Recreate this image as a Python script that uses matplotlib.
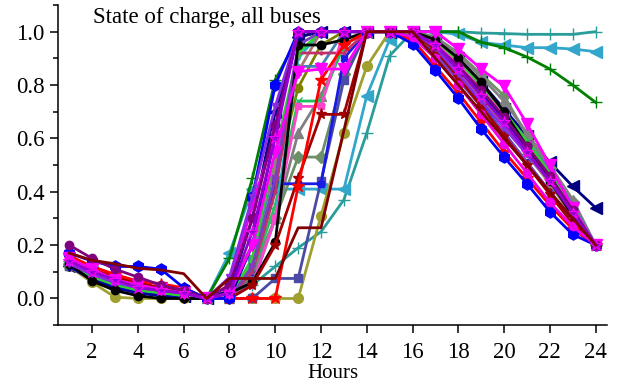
import matplotlib
matplotlib.use("Agg")
import matplotlib.pyplot as plt
from matplotlib.ticker import MultipleLocator

plt.rcParams["font.family"] = ["Liberation Serif", "DejaVu Serif"]
plt.rcParams["font.size"] = 15

hours = list(range(1, 25))

# state of charge per bus, hours 1..24
soc_teal = [0.13, 0.09, 0.06, 0.04, 0.02, 0.01, 0, 0.02, 0.05, 0.12, 0.19, 0.25, 0.37, 0.62,
            0.91, 1.0, 1.0, 1.0, 0.995, 0.993, 0.99, 0.99, 0.99, 1.0]
soc_lightblue = [0.14, 0.10, 0.07, 0.05, 0.03, 0.01, 0, 0.17, 0.41, 0.41, 0.41, 0.41, 0.41, 0.76,
                 0.97, 1.0, 1.0, 0.99, 0.96, 0.95, 0.94, 0.94, 0.935, 0.925]
soc_green = [0.13, 0.10, 0.08, 0.05, 0.04, 0.02, 0, 0.15, 0.45, 0.82, 0.98, 1.0, 1.0, 1.0,
             1.0, 1.0, 1.0, 1.0, 0.96, 0.94, 0.905, 0.86, 0.80, 0.735]
soc_navy = [0.12, 0.08, 0.05, 0.03, 0.02, 0.01, 0, 0.03, 0.30, 0.70, 0.98, 1.0, 1.0, 1.0,
            1.0, 1.0, 0.97, 0.90, 0.81, 0.71, 0.61, 0.51, 0.42, 0.34]
soc_blue = [0.17, 0.14, 0.12, 0.12, 0.11, 0.04, 0, 0.0, 0.38, 0.80, 1.0, 1.0, 1.0, 1.0,
            1.0, 0.955, 0.855, 0.75, 0.635, 0.53, 0.43, 0.325, 0.24, 0.2]
soc_red = [0.16, 0.12, 0.09, 0.065, 0.055, 0.04, 0, 0.0, 0.0, 0.0, 0.42, 0.82, 0.95, 1.0,
           1.0, 0.97, 0.87, 0.77, 0.66, 0.55, 0.45, 0.35, 0.26, 0.2]
soc_black = [0.13, 0.065, 0.03, 0.01, 0.0, 0.0, 0, 0.02, 0.06, 0.21, 0.95, 0.95, 0.97, 1.0,
             1.0, 1.0, 0.97, 0.90, 0.81, 0.70, 0.57, 0.44, 0.31, 0.2]
soc_olive = [0.12, 0.06, 0.005, 0.0, 0.0, 0.0, 0, 0.0, 0.0, 0.0, 0.0, 0.31, 0.62, 0.87,
             1.0, 1.0, 0.96, 0.88, 0.79, 0.69, 0.58, 0.46, 0.33, 0.2]
soc_darkolive = [0.14, 0.09, 0.06, 0.04, 0.03, 0.02, 0, 0.02, 0.12, 0.45, 0.79, 0.95, 1.0, 1.0,
                 1.0, 0.99, 0.93, 0.85, 0.76, 0.66, 0.55, 0.43, 0.31, 0.2]
soc_darkred = [0.15, 0.11, 0.08, 0.06, 0.04, 0.03, 0, 0.0, 0.05, 0.20, 0.45, 0.69, 0.69, 1.0,
               1.0, 1.0, 0.93, 0.83, 0.72, 0.61, 0.50, 0.39, 0.28, 0.2]
soc_magenta_v = [0.15, 0.11, 0.07, 0.05, 0.035, 0.02, 0, 0.02, 0.20, 0.55, 0.85, 0.86, 0.86, 1.0,
                 1.0, 1.0, 1.0, 0.935, 0.86, 0.795, 0.655, 0.50, 0.34, 0.2]
soc_magenta_o = [0.15, 0.105, 0.07, 0.045, 0.03, 0.02, 0, 0.05, 0.35, 0.62, 1.0, 1.0, 1.0, 1.0,
                 1.0, 0.98, 0.90, 0.80, 0.69, 0.58, 0.47, 0.36, 0.27, 0.2]
soc_seagreen = [0.13, 0.09, 0.06, 0.04, 0.02, 0.01, 0, 0.0, 0.10, 0.30, 0.53, 0.53, 0.84, 1.0,
                1.0, 1.0, 0.98, 0.92, 0.84, 0.76, 0.61, 0.49, 0.36, 0.2]
soc_slate = [0.12, 0.08, 0.05, 0.03, 0.02, 0.01, 0, 0.0, 0.0, 0.075, 0.075, 0.44, 0.82, 1.0,
             1.0, 1.0, 0.96, 0.88, 0.79, 0.69, 0.58, 0.47, 0.34, 0.2]
soc_royal = [0.13, 0.09, 0.05, 0.03, 0.02, 0.01, 0, 0.0, 0.10, 0.43, 0.43, 0.43, 0.90, 1.0,
             1.0, 0.99, 0.92, 0.83, 0.73, 0.62, 0.51, 0.40, 0.29, 0.2]
soc_spring = [0.13, 0.09, 0.06, 0.04, 0.03, 0.02, 0, 0.0, 0.10, 0.35, 0.74, 0.74, 0.95, 1.0,
              1.0, 1.0, 0.95, 0.87, 0.78, 0.68, 0.57, 0.45, 0.32, 0.2]
soc_gray = [0.14, 0.10, 0.07, 0.05, 0.03, 0.02, 0, 0.0, 0.08, 0.30, 0.62, 0.76, 0.95, 1.0,
            1.0, 1.0, 0.98, 0.91, 0.83, 0.74, 0.62, 0.50, 0.37, 0.2]
soc_steel = [0.12, 0.08, 0.05, 0.03, 0.02, 0.01, 0, 0.0, 0.15, 0.50, 0.87, 0.87, 1.0, 1.0,
             1.0, 1.0, 0.96, 0.89, 0.80, 0.70, 0.59, 0.48, 0.35, 0.2]
soc_turq = [0.13, 0.09, 0.06, 0.04, 0.02, 0.01, 0, 0.0, 0.05, 0.30, 0.90, 1.0, 1.0, 1.0,
            1.0, 0.98, 0.91, 0.82, 0.72, 0.62, 0.51, 0.40, 0.29, 0.2]
soc_rosy = [0.14, 0.10, 0.07, 0.05, 0.03, 0.02, 0, 0.05, 0.20, 0.50, 0.85, 1.0, 1.0, 1.0,
            1.0, 0.99, 0.93, 0.85, 0.75, 0.65, 0.54, 0.43, 0.31, 0.2]
soc_crimson = [0.15, 0.11, 0.08, 0.05, 0.04, 0.02, 0, 0.0, 0.10, 0.40, 0.92, 0.92, 0.92, 1.0,
               1.0, 1.0, 0.95, 0.87, 0.77, 0.67, 0.56, 0.44, 0.32, 0.2]
soc_pink = [0.15, 0.10, 0.07, 0.05, 0.04, 0.03, 0, 0.0, 0.05, 0.30, 0.72, 0.72, 1.0, 1.0,
            1.0, 1.0, 0.96, 0.88, 0.79, 0.69, 0.58, 0.46, 0.33, 0.2]
soc_darkblue = [0.12, 0.07, 0.04, 0.02, 0.01, 0.0, 0, 0.0, 0.20, 0.62, 1.0, 1.0, 1.0, 1.0,
                1.0, 1.0, 0.95, 0.86, 0.77, 0.67, 0.56, 0.45, 0.33, 0.2]
soc_lime = [0.12, 0.08, 0.05, 0.03, 0.02, 0.01, 0, 0.0, 0.15, 0.55, 0.92, 1.0, 1.0, 1.0,
            1.0, 1.0, 0.97, 0.89, 0.80, 0.70, 0.59, 0.47, 0.34, 0.2]
soc_medpurple = [0.13, 0.10, 0.07, 0.05, 0.03, 0.02, 0, 0.0, 0.12, 0.45, 0.95, 1.0, 1.0, 1.0,
                 1.0, 0.98, 0.91, 0.82, 0.72, 0.62, 0.51, 0.40, 0.29, 0.2]
soc_blueviolet = [0.13, 0.09, 0.06, 0.04, 0.03, 0.02, 0, 0.08, 0.38, 0.72, 1.0, 1.0, 1.0, 1.0,
                  1.0, 1.0, 0.94, 0.84, 0.74, 0.64, 0.54, 0.44, 0.33, 0.2]
soc_purple = [0.20, 0.15, 0.11, 0.08, 0.05, 0.03, 0, 0.05, 0.30, 0.65, 1.0, 1.0, 1.0, 1.0,
              1.0, 1.0, 0.95, 0.87, 0.78, 0.68, 0.57, 0.46, 0.33, 0.2]
soc_violet = [0.14, 0.10, 0.07, 0.04, 0.03, 0.02, 0, 0.02, 0.25, 0.60, 1.0, 1.0, 1.0, 1.0,
              1.0, 1.0, 0.95, 0.86, 0.76, 0.66, 0.55, 0.44, 0.32, 0.2]
soc_maroon = [0.17, 0.143, 0.13, 0.113, 0.107, 0.093, 0, 0.075, 0.075, 0.075, 0.265, 0.265, 0.63, 1.0,
              1.0, 1.0, 0.9, 0.8, 0.7, 0.6, 0.5, 0.4, 0.3, 0.2]

# (series, colour, marker, marker size)
lines = [
    (soc_teal, "#2a9d9a", "+", 9),
    (soc_lightblue, "#33a6cc", "<", 8),
    (soc_green, "#008000", "+", 9),
    (soc_navy, "#000080", "<", 8),
    (soc_olive, "#a0a030", "o", 7),
    (soc_darkolive, "#808000", "o", 6),
    (soc_seagreen, "#6e9068", "D", 6),
    (soc_gray, "#808080", "^", 7),
    (soc_steel, "#4682b4", ">", 6),
    (soc_slate, "#4b4ba5", "s", 6),
    (soc_royal, "#1a1ae6", "s", 5),
    (soc_spring, "#20c060", "x", 6),
    (soc_turq, "#20b8c8", ".", 5),
    (soc_rosy, "#a57a70", "^", 5),
    (soc_crimson, "#c0306a", ".", 4),
    (soc_pink, "#ff44cc", "s", 4),
    (soc_lime, "#32cd32", "x", 5),
    (soc_medpurple, "#7b3fbf", ">", 5),
    (soc_darkblue, "#0000a0", "d", 5),
    (soc_black, "#000000", "o", 6),
    (soc_darkred, "#a00000", "*", 8),
    (soc_red, "#ff0000", "*", 9),
    (soc_blue, "#0000ff", "h", 8),
    (soc_magenta_v, "#ff00ff", "v", 8),
    (soc_magenta_o, "#ee00ee", "o", 6),
    (soc_blueviolet, "#8a2be2", "v", 5),
    (soc_purple, "#800080", "o", 6),
    (soc_violet, "#9400d3", "*", 9),
    (soc_maroon, "#800000", "", 0),
]

fig = plt.figure(figsize=(6.22, 3.83), dpi=100)
ax = fig.add_axes([0.093, 0.151, 0.883, 0.836])

for values, color, marker, ms in lines:
    if marker == "*" and color == "#9400d3":
        ax.plot(hours, values, color=color, lw=2, marker=marker, ms=ms,
                markeredgecolor="#ff00ff", markeredgewidth=0.8)
    else:
        ax.plot(hours, values, color=color, lw=2, marker=marker, ms=ms)

ax.set_xlim(0.5, 24.5)
ax.set_ylim(-0.1, 1.1)
ax.set_xticks(range(2, 25, 2))
ax.set_yticks([0.0, 0.2, 0.4, 0.6, 0.8, 1.0])
ax.yaxis.set_minor_locator(MultipleLocator(0.1))
ax.tick_params(which="major", length=6, width=1.1, direction="out", labelsize=16.5)
ax.tick_params(axis="x", which="major", pad=6)
ax.tick_params(which="minor", length=3.5, width=1.1, direction="out")
ax.spines["top"].set_visible(False)
ax.spines["right"].set_visible(False)
ax.spines["left"].set_linewidth(1.1)
ax.spines["bottom"].set_linewidth(1.1)

ax.set_xlabel("Hours", fontsize=15, labelpad=1)
ax.text(0.064, 0.962, "State of charge, all buses", transform=ax.transAxes,
        ha="left", va="center", fontsize=16.5)

fig.savefig("out.png", dpi=100)
